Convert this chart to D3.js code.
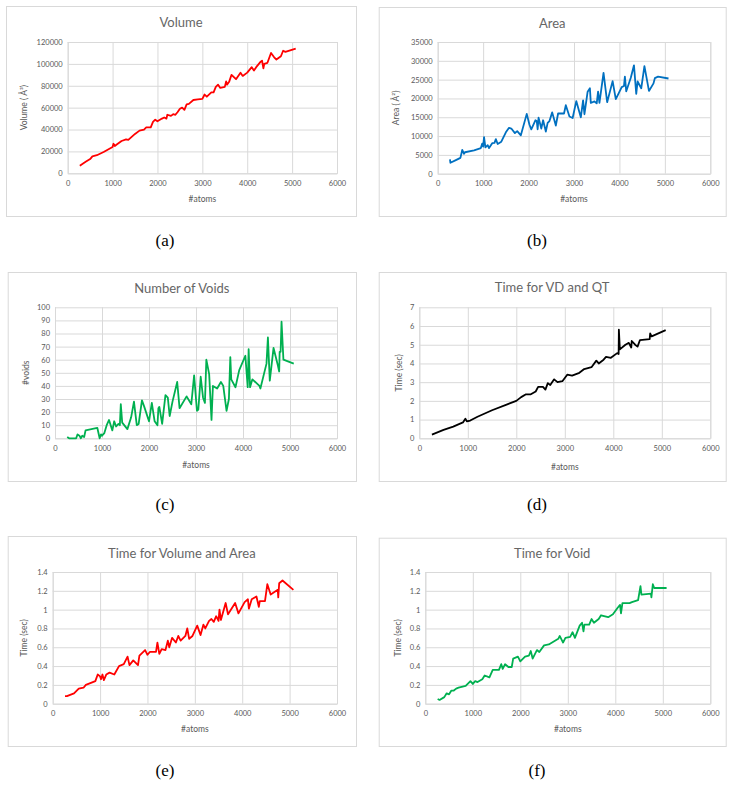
<!DOCTYPE html>
<html>
<head>
<meta charset="utf-8">
<script src="https://cdn.jsdelivr.net/npm/d3@7"></script>
<style>
  body { margin: 0; background: #fff; }
  svg { display: block; }
</style>
</head>
<body>
<svg id="fig" width="736" height="787"></svg>
<script>
// ---- data ----
const xTicks = [0, 1000, 2000, 3000, 4000, 5000, 6000];

const volAtoms = [270, 400, 500, 550, 650, 800, 1000, 1020, 1050, 1100, 1200, 1300, 1350, 1500, 1600, 1700, 1750, 1850, 1900, 1950, 2000, 2100, 2150, 2200, 2220, 2300, 2350, 2400, 2450, 2500, 2550, 2600, 2650, 2700, 2800, 2900, 3000, 3050, 3100, 3200, 3250, 3300, 3350, 3400, 3500, 3530, 3550, 3600, 3650, 3750, 3850, 3900, 4000, 4100, 4150, 4200, 4300, 4330, 4360, 4380, 4450, 4530, 4600, 4650, 4750, 4800, 4850, 5080];
const volume = [7000, 10500, 13000, 15500, 16500, 19500, 24000, 27000, 25000, 26500, 29500, 31000, 30500, 36000, 39000, 40000, 42000, 42000, 47000, 49000, 47500, 50000, 51000, 50000, 53500, 52500, 54000, 53500, 56000, 59000, 60000, 58000, 63000, 63500, 67000, 67500, 68000, 72000, 70000, 74000, 74000, 79000, 81000, 78000, 79000, 84000, 81000, 84000, 90000, 86000, 92000, 89000, 92000, 97000, 94000, 97000, 102000, 103000, 96000, 100000, 101000, 110000, 106000, 104000, 107000, 112000, 111000, 114000];
const volumeTicks = [0, 20000, 40000, 60000, 80000, 100000, 120000];

const areaAtoms = [270, 280, 400, 500, 540, 580, 600, 800, 950, 980, 1000, 1020, 1050, 1100, 1130, 1200, 1250, 1280, 1320, 1400, 1500, 1570, 1620, 1700, 1750, 1830, 1960, 2020, 2060, 2150, 2180, 2200, 2220, 2280, 2320, 2380, 2420, 2460, 2520, 2600, 2650, 2780, 2820, 2900, 2970, 3050, 3150, 3200, 3230, 3300, 3350, 3370, 3450, 3500, 3530, 3560, 3650, 3730, 3850, 3920, 4050, 4100, 4120, 4150, 4250, 4320, 4370, 4400, 4480, 4550, 4650, 4750, 4780, 4850, 5080];
const area = [3800, 2900, 3600, 4200, 6300, 5300, 5700, 6200, 6800, 8000, 7200, 9700, 7000, 7600, 6800, 8100, 8200, 9200, 7900, 8500, 11000, 12200, 12000, 10800, 11300, 10200, 15900, 13000, 11800, 14200, 14000, 11800, 14900, 12000, 14200, 11200, 13500, 14000, 16300, 12800, 16000, 16000, 18200, 15200, 14800, 19300, 15000, 19500, 15800, 21800, 22700, 18800, 19200, 18700, 21800, 18800, 26800, 19000, 24600, 19800, 23000, 23300, 25800, 21900, 25500, 28800, 21200, 24500, 22700, 28600, 22000, 24000, 25400, 25800, 25300];
const areaTicks = [0, 5000, 10000, 15000, 20000, 25000, 30000, 35000];

const voidAtoms = [260, 300, 450, 480, 520, 550, 580, 620, 650, 900, 950, 980, 1000, 1050, 1100, 1150, 1220, 1260, 1300, 1350, 1380, 1400, 1430, 1540, 1620, 1680, 1740, 1780, 1850, 1900, 2000, 2060, 2120, 2180, 2200, 2220, 2280, 2350, 2400, 2440, 2500, 2600, 2650, 2800, 2900, 2960, 3020, 3050, 3100, 3150, 3190, 3220, 3280, 3330, 3360, 3450, 3530, 3580, 3650, 3700, 3730, 3750, 3840, 3920, 4050, 4100, 4120, 4150, 4200, 4350, 4370, 4500, 4530, 4570, 4650, 4740, 4770, 4780, 4800, 4820, 4860, 5080];
const voids = [1, 0, 0, 3, 2, 0, 2, 1, 6, 8, 0, 3, 2, 4, 10, 14, 6, 13, 9, 11, 10, 26, 12, 7, 16, 28, 10, 11, 29, 24, 13, 27, 13, 10, 23, 24, 11, 33, 31, 17, 28, 43, 23, 32, 26, 48, 21, 22, 47, 31, 27, 60, 49, 14, 40, 38, 43, 40, 21, 30, 62, 45, 39, 52, 63, 39, 68, 39, 45, 40, 38, 57, 77, 44, 69, 56, 51, 66, 66, 89, 60, 57];
const voidTicks = [0, 10, 20, 30, 40, 50, 60, 70, 80, 90, 100];

const vdAtoms = [260, 500, 700, 900, 950, 980, 1050, 1200, 1500, 1800, 2000, 2100, 2200, 2300, 2400, 2450, 2550, 2600, 2650, 2700, 2780, 2850, 2950, 3050, 3150, 3300, 3400, 3550, 3650, 3700, 3800, 3850, 3950, 4080, 4110, 4115, 4135, 4250, 4320, 4370, 4380, 4450, 4500, 4550, 4750, 4760, 4790, 5080];
const vdTime = [0.2, 0.45, 0.62, 0.85, 1.05, 0.9, 0.95, 1.15, 1.5, 1.8, 2.0, 2.2, 2.35, 2.35, 2.5, 2.75, 2.75, 2.6, 2.95, 2.85, 3.15, 3.0, 3.05, 3.4, 3.35, 3.5, 3.7, 3.8, 4.15, 4.0, 4.2, 4.35, 4.3, 4.55, 4.5, 5.8, 4.75, 5.0, 5.1, 4.85, 5.2, 5.0, 4.9, 5.25, 5.3, 5.6, 5.45, 5.78];
const vdTicks = [0, 1, 2, 3, 4, 5, 6, 7];

const vaAtoms = [260, 300, 450, 550, 650, 700, 900, 950, 1000, 1020, 1050, 1080, 1130, 1200, 1300, 1400, 1500, 1580, 1620, 1700, 1800, 1830, 1950, 2000, 2050, 2180, 2210, 2250, 2300, 2380, 2430, 2460, 2520, 2600, 2650, 2700, 2800, 2840, 2880, 2950, 3050, 3120, 3180, 3220, 3300, 3350, 3400, 3450, 3500, 3520, 3550, 3650, 3700, 3850, 3920, 4050, 4120, 4140, 4200, 4300, 4350, 4370, 4480, 4530, 4600, 4750, 4760, 4780, 4850, 5080];
const vaTime = [0.08, 0.08, 0.11, 0.16, 0.17, 0.2, 0.24, 0.31, 0.29, 0.26, 0.31, 0.25, 0.31, 0.33, 0.31, 0.4, 0.42, 0.5, 0.41, 0.46, 0.41, 0.51, 0.57, 0.52, 0.55, 0.55, 0.65, 0.53, 0.58, 0.57, 0.67, 0.6, 0.7, 0.65, 0.72, 0.67, 0.72, 0.8, 0.69, 0.72, 0.83, 0.73, 0.84, 0.8, 0.88, 0.9, 0.87, 0.93, 0.88, 1.0, 0.89, 1.07, 0.95, 1.07, 0.96, 1.08, 1.11, 1.01, 1.11, 1.14, 1.03, 1.09, 1.09, 1.27, 1.16, 1.21, 1.13, 1.28, 1.31, 1.21];

const vvAtoms = [260, 300, 400, 450, 500, 550, 600, 650, 700, 850, 950, 1000, 1050, 1100, 1200, 1250, 1350, 1420, 1550, 1600, 1630, 1680, 1750, 1820, 1850, 1950, 2000, 2100, 2180, 2220, 2260, 2350, 2400, 2500, 2600, 2800, 2830, 2900, 2950, 3050, 3100, 3150, 3250, 3300, 3330, 3350, 3450, 3500, 3550, 3650, 3700, 3850, 3950, 4050, 4100, 4120, 4150, 4300, 4350, 4480, 4530, 4550, 4750, 4760, 4790, 4820, 5080];
const vvTime = [0.05, 0.04, 0.07, 0.11, 0.1, 0.14, 0.14, 0.16, 0.17, 0.19, 0.24, 0.21, 0.24, 0.23, 0.26, 0.3, 0.28, 0.36, 0.36, 0.42, 0.37, 0.42, 0.39, 0.39, 0.48, 0.5, 0.45, 0.5, 0.51, 0.56, 0.48, 0.57, 0.55, 0.62, 0.63, 0.69, 0.72, 0.65, 0.7, 0.71, 0.76, 0.7, 0.83, 0.86, 0.77, 0.84, 0.84, 0.9, 0.86, 0.9, 0.94, 0.92, 0.95, 1.02, 1.05, 0.96, 1.07, 1.07, 1.08, 1.1, 1.25, 1.16, 1.17, 1.13, 1.27, 1.23, 1.23];
const secTicks = [0, 0.2, 0.4, 0.6, 0.8, 1, 1.2, 1.4];

// ---- panel layout ----
const panels = [
  { title: "Volume", ylab: "Volume ( Å³)", xs: volAtoms, ys: volume, yt: volumeTicks, color: "#ff0000",
    box: [6, 6, 350, 210], plot: [67.7, 337, 42, 173.3], titleY: 21.7, xlabY: 199, ylabX: 24, cap: "(a)", capY: 240, capX: 165 },
  { title: "Area", ylab: "Area ( Å²)", xs: areaAtoms, ys: area, yt: areaTicks, color: "#0070c0",
    box: [378.7, 7, 347, 209], plot: [437.7, 710.3, 42, 173.7], titleY: 22.7, xlabY: 199, ylabX: 396, cap: "(b)", capY: 240, capX: 537 },
  { title: "Number of Voids", ylab: "#voids", xs: voidAtoms, ys: voids, yt: voidTicks, color: "#00b050",
    box: [7.7, 272, 348.3, 209], plot: [55, 337, 307.3, 438.3], titleY: 288.3, xlabY: 465, ylabX: 26, cap: "(c)", capY: 504, capX: 165 },
  { title: "Time for VD and QT", ylab: "Time (sec)", xs: vdAtoms, ys: vdTime, yt: vdTicks, color: "#000000",
    box: [378.7, 272, 347, 209], plot: [419.3, 710.3, 307.3, 438.3], titleY: 286.7, xlabY: 466.5, ylabX: 398.5, cap: "(d)", capY: 504, capX: 537 },
  { title: "Time for Volume and Area", ylab: "Time (sec)", xs: vaAtoms, ys: vaTime, yt: secTicks, color: "#ff0000",
    box: [7.7, 536, 348.3, 210], plot: [52.7, 337, 572, 703.7], titleY: 552.7, xlabY: 729.3, ylabX: 24.3, cap: "(e)", capY: 770, capX: 165 },
  { title: "Time for Void", ylab: "Time (sec)", xs: vvAtoms, ys: vvTime, yt: secTicks, color: "#00b050",
    box: [378.7, 537.7, 347, 208.3], plot: [425.3, 710.3, 572, 703.7], titleY: 552.7, xlabY: 729.3, ylabX: 398, cap: "(f)", capY: 770, capX: 537 }
];

const svg = d3.select("#fig");
const FONT = "Lato, 'Open Sans', sans-serif";
const GRID = "#d9d9d9";
const TXT = "#595959";

panels.forEach((p) => {
  const [bx, by, bw, bh] = p.box;
  const [pl, pr, pt, pb] = p.plot;
  const g = svg.append("g");

  // outer chart border
  g.append("rect")
    .attr("x", bx + 0.5).attr("y", by + 0.5)
    .attr("width", bw).attr("height", bh)
    .attr("fill", "#fff").attr("stroke", GRID).attr("stroke-width", 1);

  const x = d3.scaleLinear().domain([0, 6000]).range([pl, pr]);
  const y = d3.scaleLinear().domain([0, d3.max(p.yt)]).range([pb, pt]);

  // horizontal gridlines + y tick labels
  const ya = g.append("g")
    .attr("transform", `translate(${pl},0)`)
    .call(d3.axisLeft(y).tickValues(p.yt).tickSize(-(pr - pl)).tickPadding(5).tickFormat((d) => String(d)));
  ya.select(".domain").remove();
  ya.selectAll("line").attr("stroke", GRID);
  ya.selectAll("text").attr("fill", TXT).style("font-family", FONT).style("font-size", "7.5px");

  // vertical gridlines + x tick labels
  const xa = g.append("g")
    .attr("transform", `translate(0,${pb})`)
    .call(d3.axisBottom(x).tickValues(xTicks).tickSize(-(pb - pt)).tickPadding(7).tickFormat((d) => String(d)));
  xa.select(".domain").attr("stroke", GRID);
  xa.selectAll("line").attr("stroke", GRID);
  xa.selectAll("text").attr("fill", TXT).style("font-family", FONT).style("font-size", "7.5px");

  // series line
  const pts = p.xs.map((v, i) => [v, p.ys[i]]);
  g.append("path")
    .datum(pts)
    .attr("fill", "none")
    .attr("stroke", p.color)
    .attr("stroke-width", 1.8)
    .attr("stroke-linejoin", "round")
    .attr("d", d3.line().x((d) => x(d[0])).y((d) => y(d[1])));

  // titles
  g.append("text")
    .attr("x", bx + bw / 2).attr("y", p.titleY)
    .attr("text-anchor", "middle").attr("dominant-baseline", "central")
    .attr("fill", "#666").style("font-family", FONT).style("font-size", "13px")
    .text(p.title);

  g.append("text")
    .attr("x", (pl + pr) / 2).attr("y", p.xlabY)
    .attr("text-anchor", "middle").attr("dominant-baseline", "central")
    .attr("fill", TXT).style("font-family", FONT).style("font-size", "8.5px")
    .text("#atoms");

  g.append("text")
    .attr("transform", `translate(${p.ylabX},${(pt + pb) / 2}) rotate(-90)`)
    .attr("text-anchor", "middle").attr("dominant-baseline", "central")
    .attr("fill", TXT).style("font-family", FONT).style("font-size", "8.5px")
    .text(p.ylab);

  // sub-figure caption
  svg.append("text")
    .attr("x", p.capX).attr("y", p.capY)
    .attr("text-anchor", "middle").attr("dominant-baseline", "central")
    .attr("fill", "#000").style("font-family", "'Liberation Serif', 'DejaVu Serif', serif").style("font-size", "17px")
    .text(p.cap);
});
</script>
</body>
</html>
